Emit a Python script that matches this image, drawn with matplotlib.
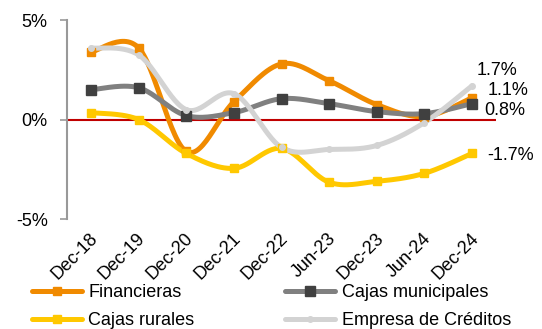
import numpy as np
import matplotlib
matplotlib.use("Agg")
import matplotlib.pyplot as plt
from matplotlib.lines import Line2D
from matplotlib.transforms import ScaledTranslation

plt.rcParams['font.family'] = ['Liberation Sans', 'DejaVu Sans']

categories = ["Dec-18", "Dec-19", "Dec-20", "Dec-21", "Dec-22",
              "Jun-23", "Dec-23", "Jun-24", "Dec-24"]
financieras = [3.4, 3.6, -1.6, 0.9, 2.8, 1.95, 0.75, 0.15, 1.1]
cajas_municipales = [1.5, 1.6, 0.2, 0.35, 1.05, 0.8, 0.4, 0.3, 0.8]
cajas_rurales = [0.35, 0.0, -1.7, -2.45, -1.45, -3.15, -3.1, -2.7, -1.7]
empresa_creditos = [3.6, 3.25, 0.5, 1.3, -1.4, -1.5, -1.3, -0.15, 1.7]
yticks = [-5, 0, 5]


def smooth(xs, ys, n=30):
    """Bezier smoothing with Catmull-Rom style control points."""
    xs = np.asarray(xs, float)
    ys = np.asarray(ys, float)
    pts = np.column_stack([xs, ys])
    out = []
    m = len(pts)
    for i in range(m - 1):
        p0 = pts[i - 1] if i > 0 else pts[i]
        p1 = pts[i]
        p2 = pts[i + 1]
        p3 = pts[i + 2] if i + 2 < m else pts[i + 1]
        c1 = p1 + (p2 - p0) / 6.0
        c2 = p2 - (p3 - p1) / 6.0
        t = np.linspace(0, 1, n)[:, None]
        seg = ((1 - t) ** 3) * p1 + 3 * ((1 - t) ** 2) * t * c1 \
            + 3 * (1 - t) * t ** 2 * c2 + t ** 3 * p2
        if i > 0:
            seg = seg[1:]
        out.append(seg)
    out = np.vstack(out)
    return out[:, 0], out[:, 1]


fig = plt.figure(figsize=(5.42, 3.29), dpi=100)
ax = fig.add_axes([0.124, 0.334, 0.791, 0.605])

x = np.arange(len(categories))

series = [
    ("Financieras", financieras, "#F08A00", "#F08A00", "s", 6),
    ("Cajas municipales", cajas_municipales, "#808080", "#404040", "s", 6.5),
    ("Cajas rurales", cajas_rurales, "#FFC800", "#FFC800", "s", 6),
    ("Empresa de Créditos", empresa_creditos, "#D3D3D3", "#D3D3D3", "o", 4),
]

ax.axhline(0, color="#C00000", lw=1.5, zorder=1)

handles = {}
for name, vals, lc, mc, mk, ms in series:
    sx, sy = smooth(x, vals)
    ax.plot(sx, sy, color=lc, lw=3.6, solid_capstyle="round", zorder=2)
    ax.plot(x, vals, ls="none", marker=mk, ms=ms, color=mc, zorder=3)
    handles[name] = Line2D([], [], color=lc, lw=3.6, marker=mk, ms=ms,
                           markerfacecolor=mc, markeredgecolor=mc,
                           solid_capstyle="round", label=name)

# end-of-series value labels
ax.text(8.1, 2.45, "1.7%", fontsize=13, va="center", ha="left")
ax.text(8.33, 1.45, "1.1%", fontsize=13, va="center", ha="left")
ax.text(8.25, 0.45, "0.8%", fontsize=13, va="center", ha="left")
ax.text(8.32, -1.8, "-1.7%", fontsize=13, va="center", ha="left")

ax.set_xlim(-0.5, 8.5)
ax.set_ylim(-5, 5)
ax.set_yticks(yticks)
ax.set_yticklabels([f"{v}%" for v in yticks], fontsize=13)
ax.set_xticks(x)
ax.set_xticklabels(categories, rotation=45, ha="right", va="center",
                   rotation_mode="anchor", fontsize=13)
ax.tick_params(axis="x", length=0, pad=12)
ax.tick_params(axis="y", length=5, color="#999999", width=1.2, pad=9)
shift = ScaledTranslation(3 / 72, 0, fig.dpi_scale_trans)
for lbl in ax.get_xticklabels():
    lbl.set_transform(lbl.get_transform() + shift)
for s in ["top", "right", "bottom"]:
    ax.spines[s].set_visible(False)
ax.spines["left"].set_color("#999999")
ax.spines["left"].set_linewidth(1.5)

order = ["Financieras", "Cajas rurales", "Cajas municipales",
         "Empresa de Créditos"]
fig.legend(handles=[handles[k] for k in order], ncol=2, loc="lower left",
           bbox_to_anchor=(0.045, -0.022), frameon=False, fontsize=13,
           handlelength=2.8, handletextpad=0.35, columnspacing=5.0,
           labelspacing=0.62, borderaxespad=0)

fig.savefig("out.png", dpi=100)
